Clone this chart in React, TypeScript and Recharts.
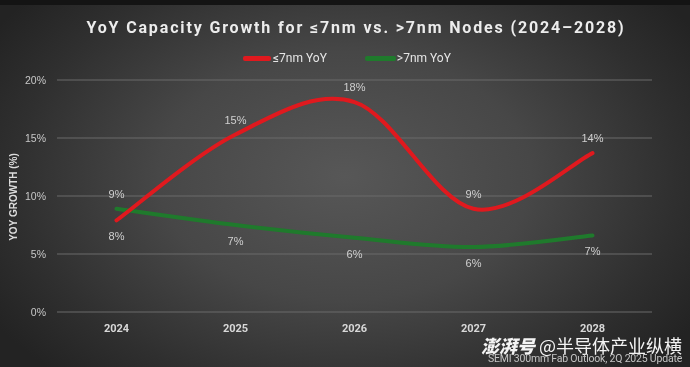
import React from 'react';
import { LineChart, Line, XAxis, YAxis, CartesianGrid, LabelList } from 'recharts';

const years = ['2024', '2025', '2026', '2027', '2028'];
const le7 = [7.9, 15.3, 18.1, 8.9, 13.7];
const gt7 = [8.9, 7.5, 6.4, 5.6, 6.6];
const le7Labels = ['8%', '15%', '18%', '9%', '14%'];
const gt7Labels = ['9%', '7%', '6%', '6%', '7%'];
const le7Side = ['below', 'above', 'above', 'above', 'above'];
const gt7Side = ['above', 'below', 'below', 'below', 'below'];
const yTicks = [0, 5, 10, 15, 20];

const data = years.map((y, i) => ({ year: y, le7: le7[i], gt7: gt7[i] }));

const RED = '#e0191e';
const GREEN = '#1f7a2c';

// Excel-like smoothing (Catmull-Rom as cubic Bezier)
const smoothCurve: any = (context: any) => {
  let pts: number[][] = [];
  return {
    areaStart() {},
    areaEnd() {},
    lineStart() { pts = []; },
    point(x: number, y: number) { pts.push([+x, +y]); },
    lineEnd() {
      if (!pts.length) return;
      context.moveTo(pts[0][0], pts[0][1]);
      for (let i = 0; i < pts.length - 1; i++) {
        const p0 = pts[i - 1] || pts[i];
        const p1 = pts[i];
        const p2 = pts[i + 1];
        const p3 = pts[i + 2] || pts[i + 1];
        context.bezierCurveTo(
          p1[0] + (p2[0] - p0[0]) / 6, p1[1] + (p2[1] - p0[1]) / 6,
          p2[0] - (p3[0] - p1[0]) / 6, p2[1] - (p3[1] - p1[1]) / 6,
          p2[0], p2[1]
        );
      }
    },
  };
};

const makeLabel = (labels: string[], sides: string[]) => (props: any) => {
  const { x, y, index } = props;
  const above = sides[index] === 'above';
  return (
    <text
      x={x}
      y={above ? y - 15 : y + 16}
      textAnchor="middle"
      dominantBaseline="central"
      fill="#d0d0d0"
      fontSize={11}
      fontFamily="Liberation Sans, Arial, sans-serif"
    >
      {labels[index]}
    </text>
  );
};

export default function App() {
  return (
    <div
      style={{
        position: 'fixed',
        left: 0,
        top: 0,
        width: 690,
        height: 367,
        overflow: 'hidden',
        background:
          'radial-gradient(ellipse 60% 75% at 50% 48%, #575757 0%, #474747 45%, #2f2f2f 80%, #232323 100%)',
        fontFamily: 'Roboto, Liberation Sans, sans-serif',
      }}
    >
      <div style={{ position: 'absolute', left: 0, top: 0, width: 690, height: 5, background: '#141414' }} />
      <div
        style={{
          position: 'absolute',
          left: 11,
          top: 18,
          width: 690,
          textAlign: 'center',
          color: '#ececec',
          fontWeight: 700,
          fontSize: 16,
          letterSpacing: 1.85,
          fontFamily: 'Roboto, sans-serif',
        }}
      >
        YoY Capacity Growth for ≤7nm vs. &gt;7nm Nodes (2024–2028)
      </div>
      <div
        style={{
          position: 'absolute',
          top: 51,
          left: 243,
          display: 'flex',
          alignItems: 'center',
          fontSize: 12,
          color: '#e6e6e6',
          fontFamily: 'Roboto, sans-serif',
        }}
      >
        <span style={{ display: 'inline-block', width: 28, height: 5, background: RED, borderRadius: 2 }} />
        <span style={{ marginLeft: 2 }}>≤7nm YoY</span>
        <span style={{ display: 'inline-block', width: 31, height: 5, background: GREEN, borderRadius: 2, marginLeft: 38 }} />
        <span style={{ marginLeft: 1 }}>&gt;7nm YoY</span>
      </div>
      <div
        style={{
          position: 'absolute',
          left: 13,
          top: 197,
          transform: 'translate(-50%, -50%) rotate(-90deg)',
          whiteSpace: 'nowrap',
          color: '#dcdcdc',
          fontWeight: 700,
          fontSize: 10,
          fontFamily: 'Liberation Sans, Arial, sans-serif',
        }}
      >
        YOY GROWTH (%)
      </div>
      <div style={{ position: 'absolute', left: 0, top: 0 }}>
        <LineChart width={690} height={367} data={data} margin={{ top: 80, right: 38, bottom: 25, left: 0 }}>
          <CartesianGrid horizontal vertical={false} stroke="#6b6b6b" strokeWidth={1} />
          <XAxis
            dataKey="year"
            axisLine={false}
            tickLine={false}
            tickMargin={6}
            padding={{ left: 59.5, right: 59.5 }}
            tick={{ fill: '#d8d8d8', fontSize: 11, fontWeight: 700, fontFamily: 'Roboto, sans-serif' }}
          />
          <YAxis
            width={57}
            domain={[0, 20]}
            ticks={yTicks}
            tickFormatter={(v: number) => `${v}%`}
            axisLine={false}
            tickLine={false}
            tickMargin={5}
            tick={{ fill: '#c8c8c8', fontSize: 10.5, fontFamily: 'Liberation Sans, Arial, sans-serif' }}
          />
          <Line
            dataKey="gt7"
            type={smoothCurve}
            stroke={GREEN}
            strokeWidth={4}
            strokeLinecap="round"
            dot={false}
            activeDot={false}
            isAnimationActive={false}
          >
            <LabelList dataKey="gt7" content={makeLabel(gt7Labels, gt7Side)} />
          </Line>
          <Line
            dataKey="le7"
            type={smoothCurve}
            stroke={RED}
            strokeWidth={4}
            strokeLinecap="round"
            dot={false}
            activeDot={false}
            isAnimationActive={false}
          >
            <LabelList dataKey="le7" content={makeLabel(le7Labels, le7Side)} />
          </Line>
        </LineChart>
      </div>
      <div
        style={{
          position: 'absolute',
          right: 8,
          top: 337,
          color: '#f4f4f4',
          fontSize: 18,
          whiteSpace: 'nowrap',
          fontFamily: 'Noto Sans CJK SC, sans-serif',
          lineHeight: '16px',
        }}
      >
        <span style={{ fontStyle: 'italic', fontWeight: 900 }}>澎湃号</span> @半导体产业纵横
      </div>
      <div
        style={{
          position: 'absolute',
          right: 8,
          top: 354,
          color: '#c4c4c4',
          fontSize: 10.5,
          lineHeight: '10px',
          whiteSpace: 'nowrap',
          fontFamily: 'Roboto, sans-serif',
          letterSpacing: -0.2,
        }}
      >
        SEMI 300mm Fab Outlook, 2Q 2025 Update
      </div>
    </div>
  );
}
